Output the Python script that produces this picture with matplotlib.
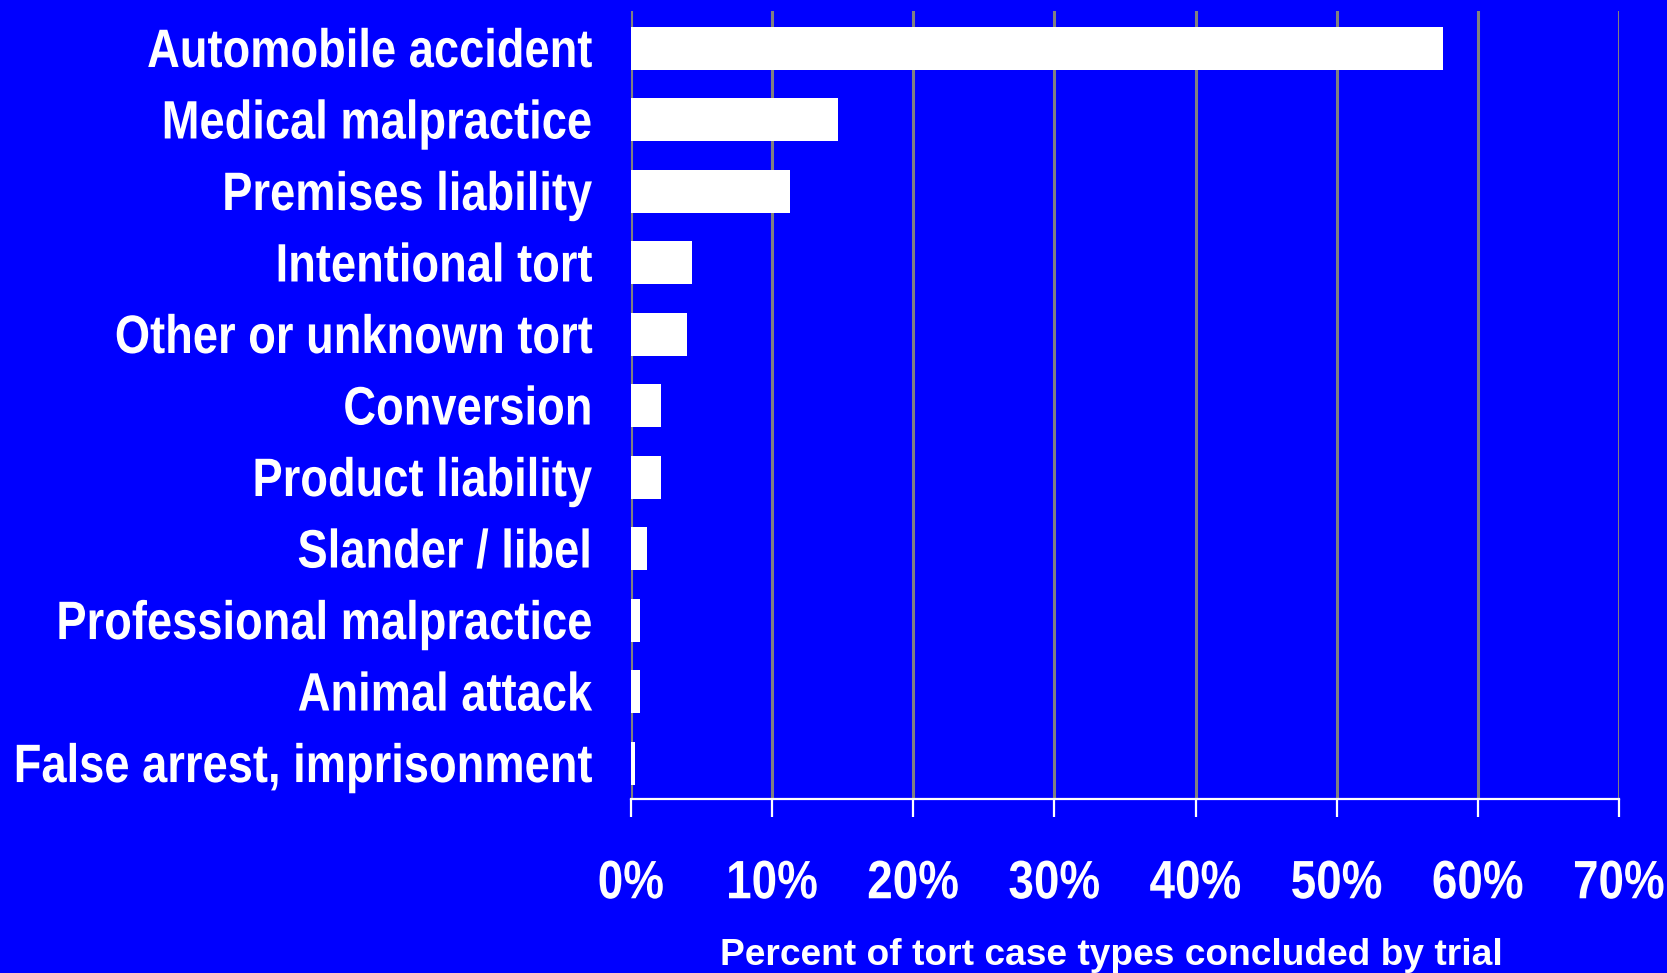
import matplotlib.pyplot as plt
import matplotlib.patheffects as pe
from matplotlib.transforms import Affine2D
import numpy as np

# categories, top to bottom
categories = [
    'Automobile accident',
    'Medical malpractice',
    'Premises liability',
    'Intentional tort',
    'Other or unknown tort',
    'Conversion',
    'Product liability',
    'Slander / libel',
    'Professional malpractice',
    'Animal attack',
    'False arrest, imprisonment',
]
percent = [57.5, 14.7, 11.3, 4.3, 4.0, 2.1, 2.1, 1.1, 0.66, 0.66, 0.26]
xticks = [0, 10, 20, 30, 40, 50, 60, 70]
xtick_labels = ['0%', '10%', '20%', '30%', '40%', '50%', '60%', '70%']


class Tall(pe.AbstractPathEffect):
    # stretch glyphs upward from the baseline (the original's labels are tall and narrow)
    def __init__(self, sy, dy=0.0):
        super().__init__()
        self.sy = sy
        self.dy = dy

    def draw_path(self, renderer, gc, tpath, affine, rgbFace=None):
        t = Affine2D().scale(1, self.sy) + affine + Affine2D().translate(0, self.dy)
        renderer.draw_path(gc, tpath, t, rgbFace)


plt.rcParams['font.family'] = ['Liberation Sans', 'DejaVu Sans']
plt.rcParams['font.weight'] = 'bold'

blue = '#0000FF'
fig = plt.figure(figsize=(16.67, 9.73), dpi=100, facecolor=blue)
ax = fig.add_axes([631 / 1667, 1 - 799 / 973, (1619 - 631) / 1667, (799 - 11) / 973])
ax.set_facecolor(blue)

y = np.arange(len(categories))
ax.barh(y, percent, height=0.6, color='white', zorder=3)

ax.set_xlim(0, 70)
ax.set_ylim(len(categories) - 0.5, -0.52)

ax.set_xticks(xticks)
ax.set_xticklabels(xtick_labels, fontsize=33, color='white', fontweight='bold')
ax.set_yticks(y)
ax.set_yticklabels(categories, fontsize=32.6, color='white', fontweight='bold')
for t in ax.get_xticklabels():
    t.set_path_effects([Tall(1.18)])
for t in ax.get_yticklabels():
    t.set_path_effects([Tall(1.195, dy=-2.8)])

ax.tick_params(axis='x', length=13, width=1.6, color='white', pad=34)
ax.tick_params(axis='y', length=0, pad=28)

ax.grid(axis='x', color='#808080', linewidth=2.2, zorder=1)
for s in ['top', 'right', 'left']:
    ax.spines[s].set_visible(False)
ax.spines['bottom'].set_color('white')
ax.spines['bottom'].set_linewidth(1.6)
ax.spines['bottom'].set_zorder(4)

fig.text(1111.5 / 1667, 1 - 965 / 973, 'Percent of tort case types concluded by trial',
         fontsize=26.7, color='white', fontweight='bold', ha='center', va='baseline')

fig.savefig('out.png', dpi=100, facecolor=blue)
